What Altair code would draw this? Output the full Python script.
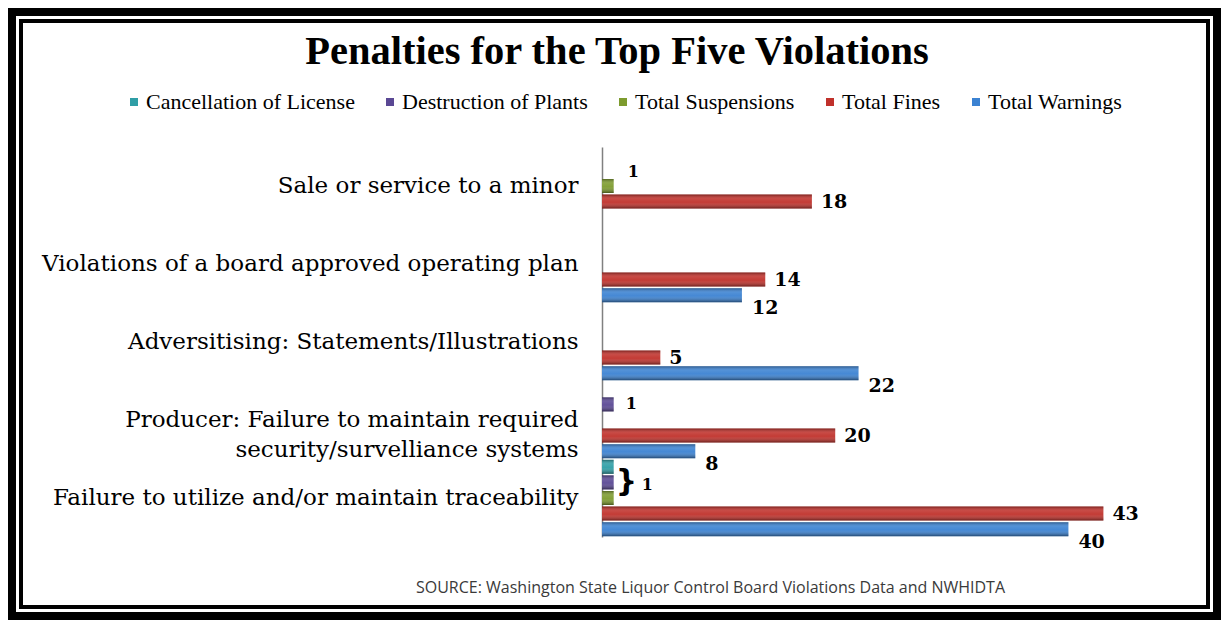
import altair as alt
import pandas as pd

title_text = "Penalties for the Top Five Violations"
source_text = "SOURCE: Washington State Liquor Control Board Violations Data and NWHIDTA"
categories = [
    "Sale or service to a minor",
    "Violations of a board approved operating plan",
    "Adversitising: Statements/Illustrations",
    "Producer: Failure to maintain required|security/survelliance systems",
    "Failure to utilize and/or maintain traceability",
]
series = ["Cancellation of License", "Destruction of Plants", "Total Suspensions",
          "Total Fines", "Total Warnings"]
cancellation = [0, 0, 0, 0, 1]
destruction = [0, 0, 0, 1, 1]
suspensions = [1, 0, 0, 0, 1]
fines = [18, 14, 5, 20, 43]
warnings = [0, 12, 22, 8, 40]
colors = ["#2f9ea6", "#5a4894", "#7d9b2e", "#c0312b", "#3b82d2"]

rows = []
for s, vals in zip(series, [cancellation, destruction, suspensions, fines, warnings]):
    for c, v in zip(categories, vals):
        if v > 0:
            rows.append({"category": c, "series": s, "value": v})
df = pd.DataFrame(rows)

# the three small bars of the last group share one bracketed label
joint_cat = categories[4]
joint_series = series[:3]
is_joint = (df["category"] == joint_cat) & (df["series"].isin(joint_series))
label_df = df[~is_joint]
bracket_df = df[(df["category"] == joint_cat) & (df["series"] == series[1])]

W, H = 583, 390
PL, PT, PR, PB = 594, 139, 36, 83

ysort = alt.Y("category:N", sort=categories)
ysub = alt.YOffset("series:N", sort=series)

yenc = alt.Y("category:N", sort=categories,
             scale=alt.Scale(paddingInner=0, paddingOuter=0),
             axis=alt.Axis(title=None, ticks=False, domain=True, domainColor="#808080",
                           domainWidth=1.5, labelFont="DejaVu Serif", labelFontSize=23,
                           labelColor="#000000", labelPadding=24, labelLimit=0,
                           labelLineHeight=30, labelExpr="split(datum.label, '|')"))
xenc = alt.X("value:Q", scale=alt.Scale(domain=[0, 50]),
             axis=alt.Axis(labels=False, ticks=False, domain=False, grid=False,
                           title=source_text,
                           titleX=108, titleY=50, titleAlign="center", titleBaseline="middle",
                           titleFont="Open Sans", titleFontSize=16, titleFontWeight="normal",
                           titleColor="#3a3a3a"))
yoff = alt.YOffset("series:N", sort=series, scale=alt.Scale(paddingInner=0.1, paddingOuter=0.05))

bars = alt.Chart(df).mark_bar(cornerRadius=0).encode(
    x=xenc, y=yenc, yOffset=yoff,
    color=alt.Color("series:N", sort=series, scale=alt.Scale(domain=series, range=colors),
                    legend=alt.Legend(orient="none", direction="horizontal", legendX=-479,
                                      legendY=-56, title=None, symbolType="square",
                                      symbolSize=64, symbolStrokeWidth=0,
                                      labelFont="Liberation Serif", labelFontSize=22,
                                      labelLimit=0, labelColor="#000000",
                                      columnPadding=24, labelOffset=1)),
)

shade = alt.Chart(df).mark_bar(
    fill=alt.Gradient(gradient="linear", x1=0, y1=0, x2=0, y2=1, stops=[
        alt.GradientStop(offset=0, color="rgba(0,0,0,0.35)"),
        alt.GradientStop(offset=0.3, color="rgba(255,255,255,0.12)"),
        alt.GradientStop(offset=0.55, color="rgba(255,255,255,0.05)"),
        alt.GradientStop(offset=1, color="rgba(0,0,0,0.45)"),
    ])
).encode(x="value:Q", y=ysort, yOffset=ysub)

label_style = {
    series[0]: (10, 0, 16),
    series[1]: (12, 0, 16),
    series[2]: (14, -14, 16),
    series[3]: (9, 0, 19),
    series[4]: (10, 13, 19),
}
label_layers = []
for s in series:
    dx, dy, fs = label_style[s]
    label_layers.append(
        alt.Chart(label_df).transform_filter(alt.datum.series == s).mark_text(
            align="left", dx=dx, dy=dy, font="DejaVu Serif", fontWeight="bold",
            fontSize=fs, color="#000000"
        ).encode(x="value:Q", y=ysort, yOffset=ysub, text="value:Q")
    )

bracket = alt.Chart(bracket_df).mark_text(
    align="left", dx=2, dy=0, font="DejaVu Sans", fontSize=30, fontWeight="bold", color="#000000"
).encode(x="value:Q", y=ysort, yOffset=ysub, text=alt.value("}"))
bracket_num = alt.Chart(bracket_df).mark_text(
    align="left", dx=28, dy=3, font="DejaVu Serif", fontSize=16, fontWeight="bold", color="#000000"
).encode(x="value:Q", y=ysort, yOffset=ysub, text="value:Q")

one = pd.DataFrame({"k": [0]})
title = alt.Chart(one).mark_text(
    align="center", baseline="alphabetic", font="Liberation Serif", fontSize=40.5,
    fontWeight="bold", color="#000000"
).encode(x=alt.value(15), y=alt.value(-83), text=alt.value(title_text))
outer = alt.Chart(one).mark_rect(fill="transparent", stroke="#000000", strokeWidth=8).encode(
    x=alt.value(-PL + 4), x2=alt.value(W + PR - 4), y=alt.value(-PT + 4), y2=alt.value(H + PB - 4))
inner = alt.Chart(one).mark_rect(fill="transparent", stroke="#000000", strokeWidth=4).encode(
    x=alt.value(-PL + 13), x2=alt.value(W + PR - 13), y=alt.value(-PT + 13), y2=alt.value(H + PB - 13))

chart = alt.layer(bars, shade, *label_layers, bracket, bracket_num, title, outer, inner).properties(
    width=W, height=H,
    autosize=alt.AutoSizeParams(type="none"),
    padding={"left": PL, "top": PT, "right": PR, "bottom": PB},
    background="#ffffff",
).configure_view(stroke=None)

chart.save("out.html", embed_options={"renderer": "svg", "actions": False})
